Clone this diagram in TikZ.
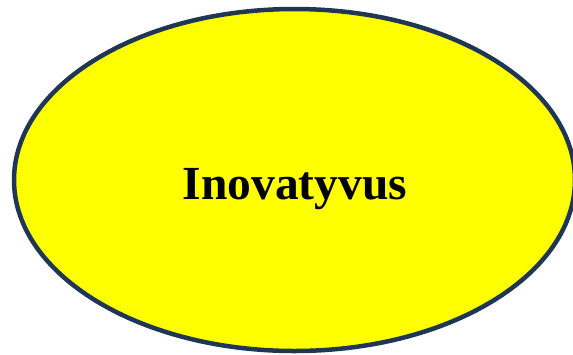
\documentclass[tikz,border=0pt]{standalone}
\usepackage{fontspec}
\setmainfont{Liberation Serif}
\definecolor{rim}{HTML}{1F3654}
\definecolor{fillyellow}{RGB}{255,255,0}
\begin{document}
\begin{tikzpicture}[x=1pt,y=-1pt,
  label/.style={font=\fontsize{47.5}{50}\selectfont\bfseries,anchor=base}]
\useasboundingbox (0,0) rectangle (573,354);
\begin{scope}
\clip (0,0) rectangle (573,354);
\filldraw[draw=rim,fill=fillyellow,line width=4.5pt] (294.5,180) ellipse [x radius=280.5, y radius=171];
\end{scope}
\node[label] (t) at (295,199) {Inovatyvus};
\end{tikzpicture}
\end{document}
